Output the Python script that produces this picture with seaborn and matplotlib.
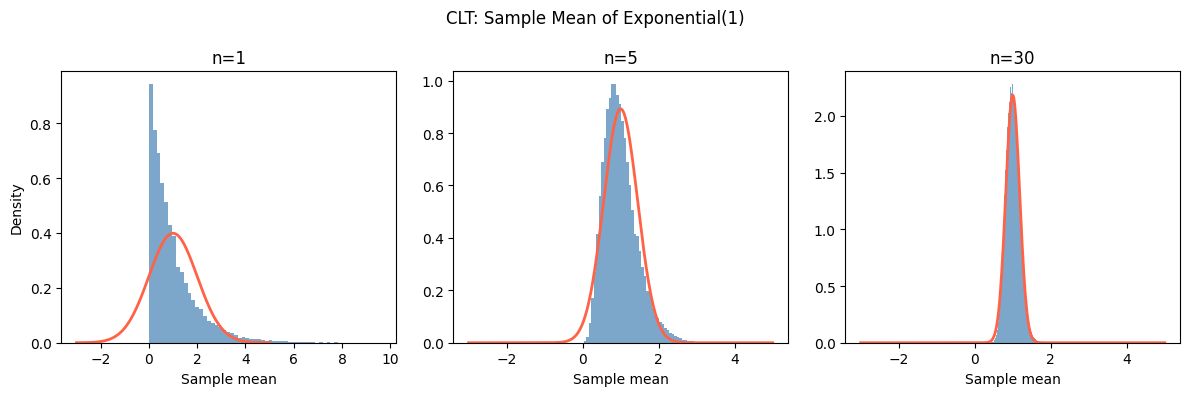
import numpy as np
import pandas as pd
import matplotlib
matplotlib.use("Agg")
import matplotlib.pyplot as plt
import seaborn as sns

# ---- data ----
titles = ["n=1", "n=5", "n=30"]
sample_sizes = [1, 5, 30]

# histogram bins: start, width (60 bins each)
p1_start, p1_width = 0.0, 0.16
p1_heights = [0.942, 0.775, 0.691, 0.583, 0.513, 0.429, 0.390, 0.277, 0.258, 0.216,
              0.180, 0.155, 0.131, 0.124, 0.098, 0.080, 0.073, 0.064, 0.056, 0.046,
              0.038, 0.035, 0.027, 0.019, 0.022, 0.018, 0.015, 0.015, 0.015, 0.011,
              0.008, 0.011, 0.008, 0.005, 0.008, 0.005, 0.004, 0.003, 0.004, 0.003,
              0.004, 0.003, 0.001, 0.0006, 0.0013, 0.0006, 0.0025, 0.0006, 0.0025, 0.0006,
              0.0, 0.0006, 0.0, 0.0, 0.0006, 0.0, 0.0, 0.0, 0.0, 0.0006]

p2_start, p2_width = 0.03, 0.066
p2_heights = [0.006, 0.020, 0.076, 0.170, 0.270, 0.416, 0.560, 0.690, 0.780, 0.890,
              0.935, 0.986, 0.986, 0.945, 0.910, 0.846, 0.780, 0.690, 0.600, 0.505,
              0.413, 0.407, 0.350, 0.289, 0.255, 0.197, 0.190, 0.134, 0.105, 0.095,
              0.080, 0.070, 0.055, 0.050, 0.038, 0.032, 0.026, 0.020, 0.018, 0.012,
              0.010, 0.008, 0.006, 0.005, 0.004, 0.003, 0.003, 0.002, 0.0015, 0.0015,
              0.0008, 0.0008, 0.0004, 0.0004, 0.0, 0.0004, 0.0, 0.0, 0.0, 0.0015]

p3_start, p3_width = 0.43, 0.025
p3_heights = [0.004, 0.004, 0.008, 0.020, 0.040, 0.068, 0.116, 0.180, 0.260, 0.380,
              0.520, 0.690, 0.870, 1.090, 1.300, 1.520, 1.700, 1.900, 2.030, 2.120,
              2.260, 2.200, 2.280, 2.150, 2.020, 1.930, 1.760, 1.620, 1.440, 1.280,
              1.100, 0.970, 0.820, 0.700, 0.570, 0.480, 0.380, 0.310, 0.250, 0.200,
              0.150, 0.120, 0.092, 0.072, 0.052, 0.040, 0.032, 0.022, 0.016, 0.012,
              0.008, 0.008, 0.004, 0.004, 0.004, 0.0, 0.004, 0.0, 0.0, 0.004]

# theoretical normal overlay: N(mu, sigma^2/n)
mu, sigma = 1.0, 1.0
curve_range = (-3.0, 5.0)

panels = [(p1_start, p1_width, p1_heights),
          (p2_start, p2_width, p2_heights),
          (p3_start, p3_width, p3_heights)]

fig, axes = plt.subplots(1, 3, figsize=(12, 4), dpi=100)
xc = np.linspace(curve_range[0], curve_range[1], 400)

for ax, title, n, (start, width, heights) in zip(axes, titles, sample_sizes, panels):
    heights = np.asarray(heights, dtype=float)
    nb = len(heights)
    centers = start + width * (np.arange(nb) + 0.5)
    df = pd.DataFrame({"x": centers, "w": heights})
    sns.histplot(data=df, x="x", weights="w", binwidth=width,
                 binrange=(start, start + width * nb), stat="count",
                 color="steelblue", alpha=0.7, linewidth=0, ax=ax)
    s = sigma / np.sqrt(n)
    pdf = np.exp(-0.5 * ((xc - mu) / s) ** 2) / (s * np.sqrt(2 * np.pi))
    sns.lineplot(x=xc, y=pdf, color="tomato", linewidth=2, ax=ax)
    ax.set_title(title)
    ax.set_xlabel("Sample mean")
    ax.set_ylabel("")

axes[0].set_ylabel("Density")
fig.suptitle("CLT: Sample Mean of Exponential(1)")
plt.tight_layout()
fig.savefig("out.png", dpi=100, bbox_inches="tight")
